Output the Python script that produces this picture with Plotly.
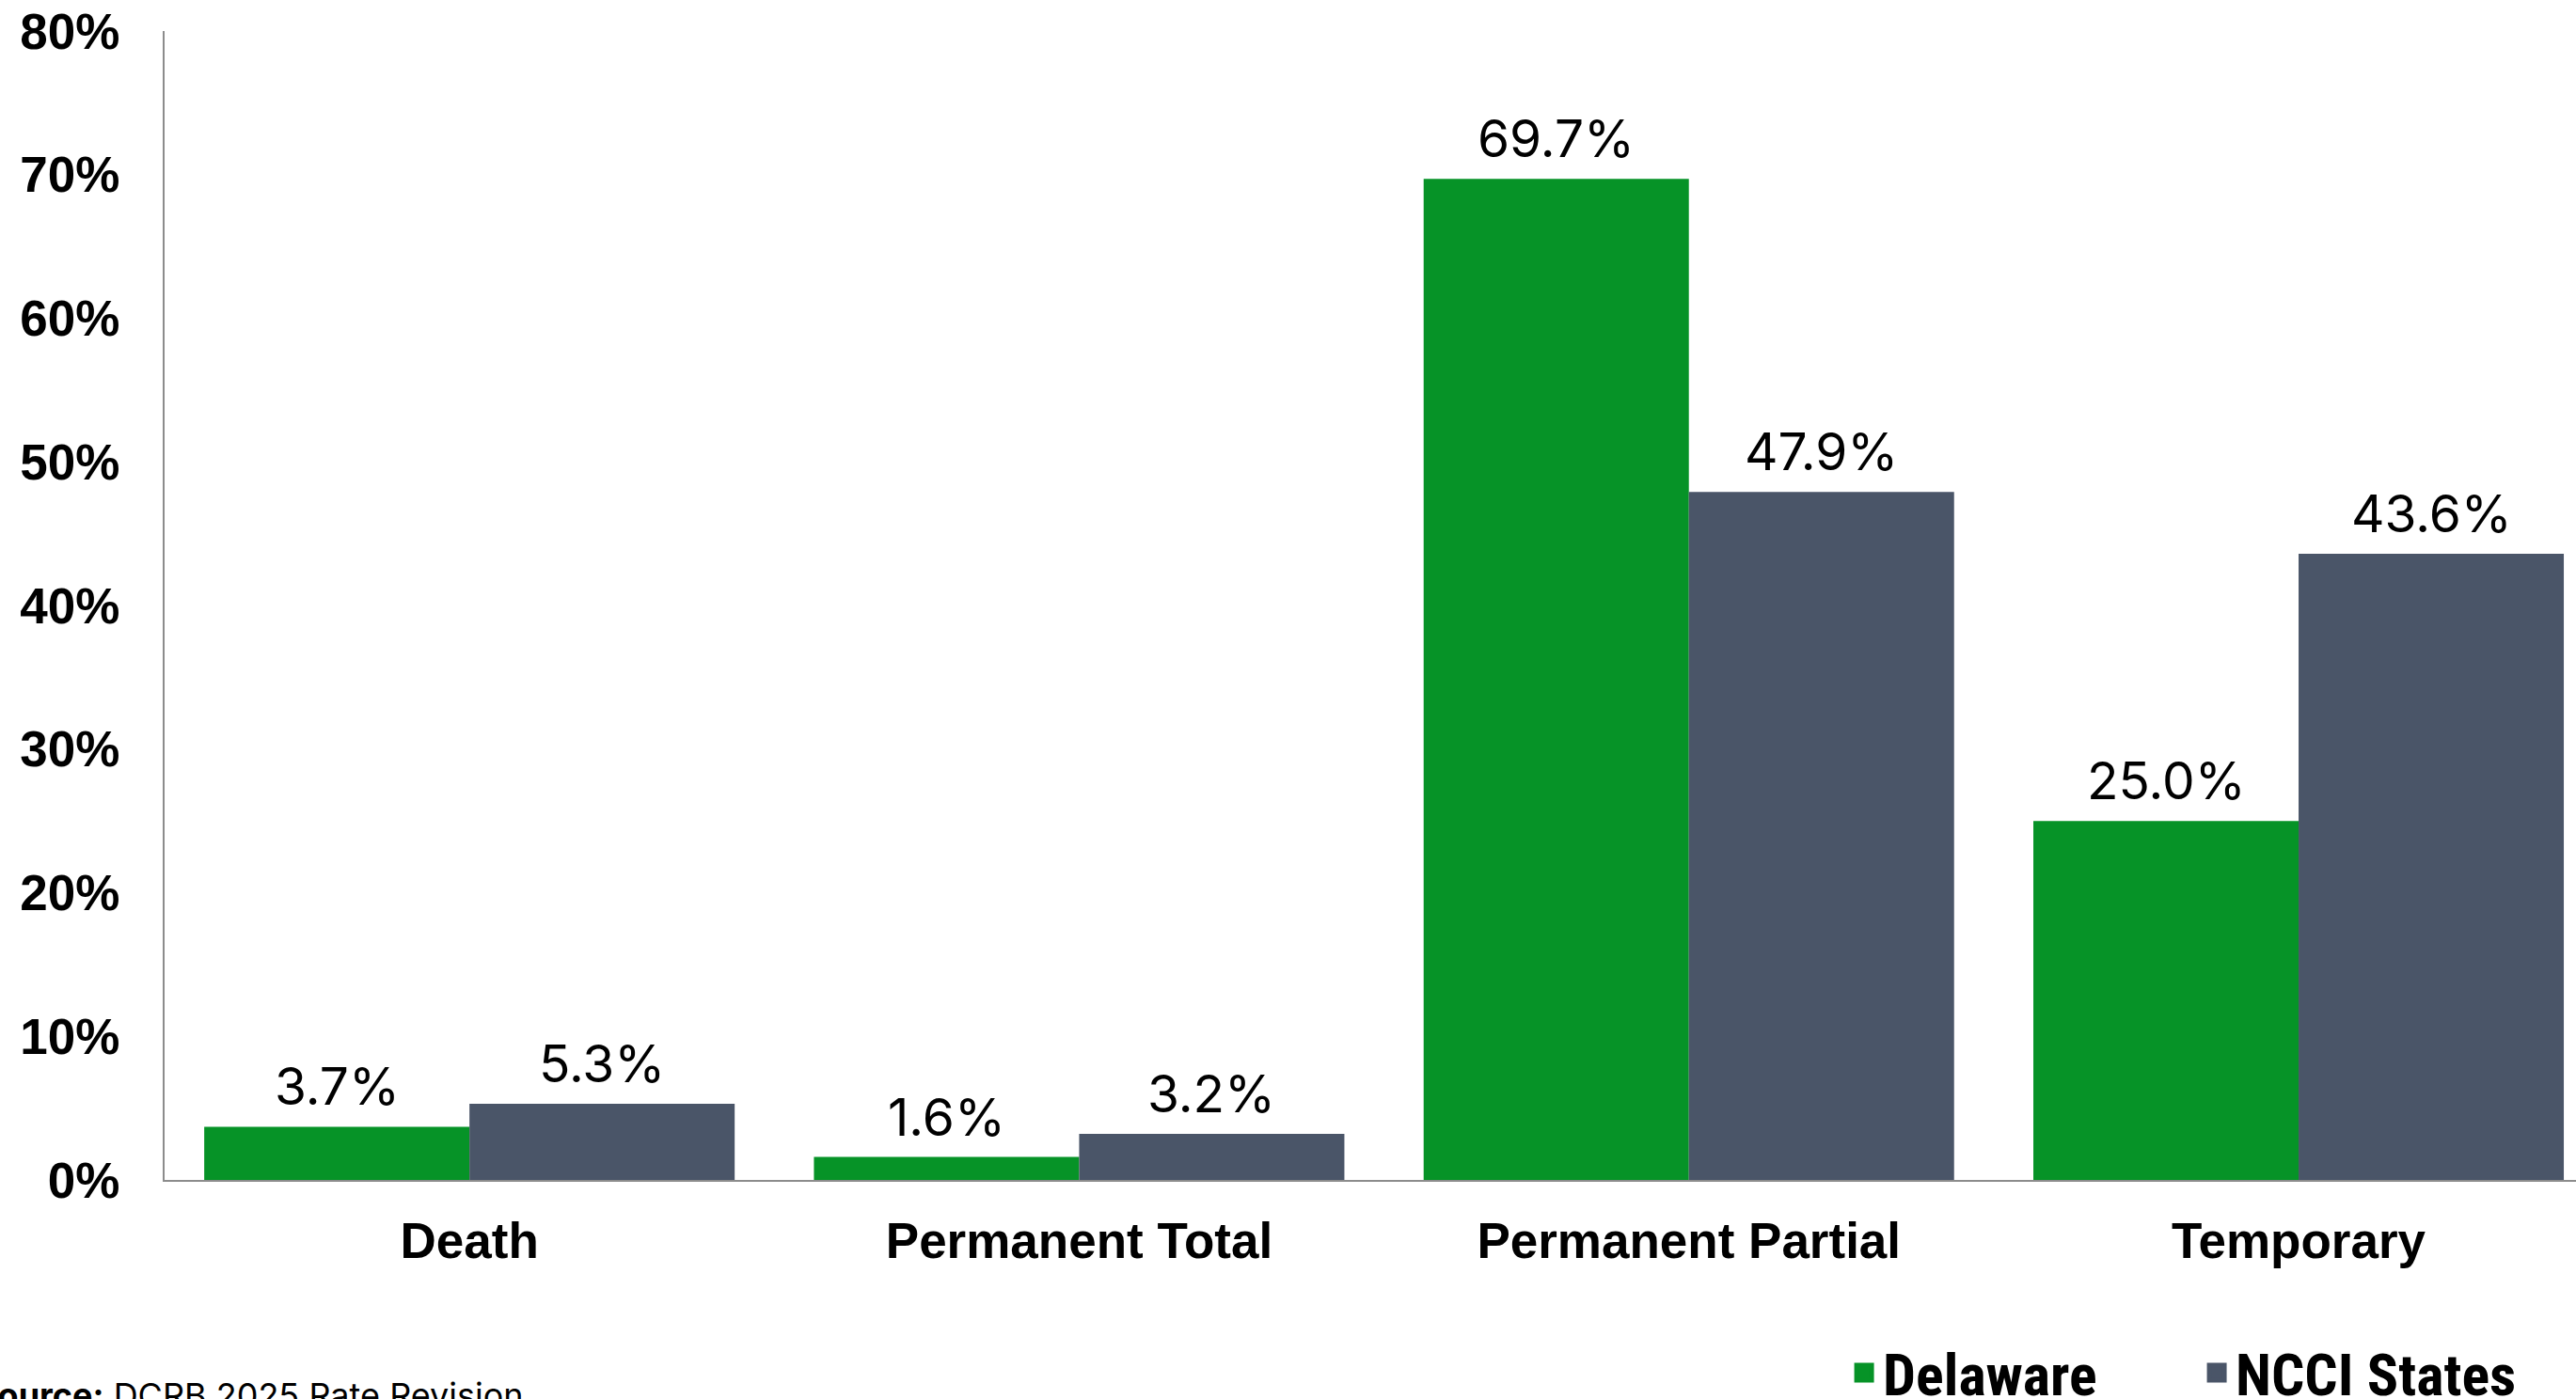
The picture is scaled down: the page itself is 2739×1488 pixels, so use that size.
import plotly.graph_objects as go

categories = ["Death", "Permanent Total", "Permanent Partial", "Temporary"]
delaware = [3.7, 1.6, 69.7, 25.0]
ncci = [5.3, 3.2, 47.9, 43.6]
series_names = ["Delaware", "NCCI States"]
y_ticks = [0, 10, 20, 30, 40, 50, 60, 70, 80]
y_tick_text = [f"{v}%" for v in y_ticks]
source_label = "Source:"
source_text = "DCRB 2025 Rate Revision"

GREEN = "#069327"
GREY = "#4A5568"
AXIS = "#8C8C8C"
BARGAP = 0.13

fig = go.Figure()
for name, vals, col in [(series_names[0], delaware, GREEN), (series_names[1], ncci, GREY)]:
    fig.add_trace(go.Bar(x=categories, y=vals, name=name, marker=dict(color=col, line=dict(width=0)),
                         showlegend=False, hoverinfo="skip"))
    # legend proxies
    fig.add_trace(go.Scatter(x=[None], y=[None], mode="markers", name=name,
                             marker=dict(symbol="square", size=26, color=col,
                                         line=dict(color=col, width=8)), showlegend=True))

# value labels above bars
bw = (1 - BARGAP) / 2
for j, vals in enumerate([delaware, ncci]):
    for i, v in enumerate(vals):
        fig.add_annotation(x=i + (j - 0.5) * bw, y=v, xref="x", yref="y",
                           text=f"{v:.1f}%", showarrow=False, yanchor="bottom", yshift=8,
                           font=dict(family="Inter, Roboto, sans-serif", size=55, color="#000"))

fig.add_annotation(xref="paper", yref="paper", x=0, xshift=-203, xanchor="left",
                   y=-0.187, yanchor="middle", showarrow=False,
                   text=f"<b>{source_label}</b> {source_text}",
                   font=dict(family="Inter, Roboto, sans-serif", size=36, color="#000"))

fig.update_layout(
    width=2739, height=1488,
    margin=dict(l=175, r=0, t=33, b=233, autoexpand=False),
    paper_bgcolor="white", plot_bgcolor="white",
    barmode="group", bargap=BARGAP, bargroupgap=0,
    showlegend=True,
    legend=dict(orientation="h", x=0.9895, xanchor="right", y=-0.168, yanchor="middle",
                font=dict(family="Liberation Sans Narrow, Arial Narrow, Roboto Condensed, Liberation Sans",
                          size=62, color="#000", weight="bold"),
                entrywidth=330, entrywidthmode="pixels", itemsizing="trace",
                bgcolor="rgba(0,0,0,0)"),
    xaxis=dict(type="category", range=[-0.5, 3.455], showline=True, linecolor=AXIS, linewidth=2,
               showgrid=False, ticks="", ticklabelstandoff=17,
               tickfont=dict(family="Liberation Sans, Arial, sans-serif", size=53, color="#000", weight="bold")),
    yaxis=dict(range=[0, 80], tickvals=y_ticks, ticktext=y_tick_text, showline=True, linecolor=AXIS,
               linewidth=2, showgrid=False, zeroline=False, ticks="", ticklabelstandoff=35,
               tickfont=dict(family="Liberation Sans, Arial, sans-serif", size=53, color="#000", weight="bold")),
)

fig.write_html("out.html")
